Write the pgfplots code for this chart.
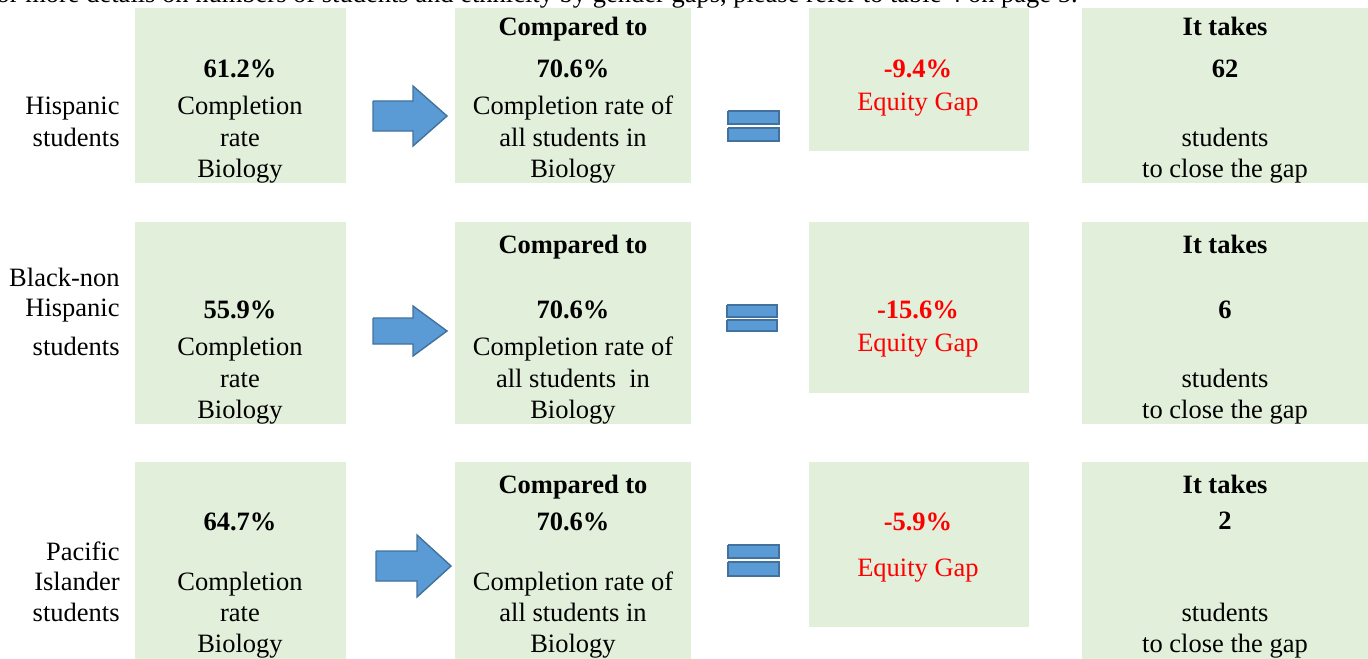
\documentclass[border=0pt]{standalone}
\usepackage{fontspec}
\setmainfont{Liberation Serif}
\usepackage{pgfplots}
\pgfplotsset{compat=1.18}
\definecolor{boxg}{HTML}{E2EFDA}
\definecolor{arrf}{HTML}{5B9BD5}
\definecolor{arrd}{HTML}{41719C}
\definecolor{gapred}{HTML}{FF0000}
\newcommand{\T}[3]{\node[anchor=base,inner sep=0pt] at (axis cs:#1,#2) {#3};}
\newcommand{\TB}[3]{\node[anchor=base,inner sep=0pt] at (axis cs:#1,#2) {\textbf{#3}};}
\newcommand{\TR}[3]{\node[anchor=base,inner sep=0pt,text=gapred] at (axis cs:#1,#2) {#3};}
\newcommand{\TRB}[3]{\node[anchor=base,inner sep=0pt,text=gapred] at (axis cs:#1,#2) {\textbf{#3}};}
\newcommand{\TL}[3]{\node[anchor=base east,inner sep=0pt] at (axis cs:#1,#2) {#3};}
\begin{document}
\begin{tikzpicture}[font=\fontsize{13.25}{15.5}\selectfont]
\begin{axis}[name=ax, hide axis, scale only axis, width=684pt, height=329pt,
  xmin=0, xmax=1368, ymin=0, ymax=658, y dir=reverse, clip=false, no markers]
% ---- boxes
\addplot[fill=boxg,draw=none] coordinates {(135,8)(346,8)(346,183)(135,183)};
\addplot[fill=boxg,draw=none] coordinates {(455,8)(691,8)(691,183)(455,183)};
\addplot[fill=boxg,draw=none] coordinates {(809,8)(1029,8)(1029,151)(809,151)};
\addplot[fill=boxg,draw=none] coordinates {(1082,8)(1370,8)(1370,183)(1082,183)};
\addplot[fill=boxg,draw=none] coordinates {(135,222)(346,222)(346,424)(135,424)};
\addplot[fill=boxg,draw=none] coordinates {(455,222)(691,222)(691,424)(455,424)};
\addplot[fill=boxg,draw=none] coordinates {(809,222)(1029,222)(1029,393)(809,393)};
\addplot[fill=boxg,draw=none] coordinates {(1082,222)(1370,222)(1370,424)(1082,424)};
\addplot[fill=boxg,draw=none] coordinates {(135,462)(346,462)(346,662)(135,662)};
\addplot[fill=boxg,draw=none] coordinates {(455,462)(691,462)(691,662)(455,662)};
\addplot[fill=boxg,draw=none] coordinates {(809,462)(1029,462)(1029,627)(809,627)};
\addplot[fill=boxg,draw=none] coordinates {(1082,462)(1370,462)(1370,662)(1082,662)};
% ---- arrows
\addplot[fill=arrf,draw=arrd,line width=0.7pt] coordinates {(373,101)(413,101)(413,86)(447,116)(413,146)(413,131)(373,131)(373,101)};
\addplot[fill=arrf,draw=arrd,line width=0.7pt] coordinates {(373,318)(413,318)(413,306)(447,331)(413,356)(413,344)(373,344)(373,318)};
\addplot[fill=arrf,draw=arrd,line width=0.7pt] coordinates {(376,551)(417,551)(417,535)(451,566)(417,597)(417,581)(376,581)(376,551)};
% ---- equals signs
\addplot[fill=arrf,draw=arrd,line width=0.7pt] coordinates {(728,111)(779,111)(779,124)(728,124)(728,111)};
\addplot[fill=arrf,draw=arrd,line width=0.7pt] coordinates {(728,128)(779,128)(779,141)(728,141)(728,128)};
\addplot[fill=arrf,draw=arrd,line width=0.7pt] coordinates {(727,305)(777,305)(777,317)(727,317)(727,305)};
\addplot[fill=arrf,draw=arrd,line width=0.7pt] coordinates {(727,320)(777,320)(777,331)(727,331)(727,320)};
\addplot[fill=arrf,draw=arrd,line width=0.7pt] coordinates {(728,545)(779,545)(779,558)(728,558)(728,545)};
\addplot[fill=arrf,draw=arrd,line width=0.7pt] coordinates {(728,562)(779,562)(779,576)(728,576)(728,562)};
% ---- top line (clipped at the top edge, as in the reference)
\node[anchor=base east,inner sep=0pt] at (axis cs:1078,3) {For more details on numbers of students and ethnicity by gender gaps, please refer to table 4 on page 5.};
% ---- row 1
\TL{120}{114}{Hispanic}
\TL{120}{146}{students}
\TB{240}{78}{61.2\%}
\T{240}{114}{Completion}
\T{240}{146}{rate}
\T{240}{177}{Biology}
\TB{573}{36}{Compared to}
\TB{573}{78}{70.6\%}
\T{573}{114}{Completion rate of}
\T{573}{146}{all students in}
\T{573}{177}{Biology}
\TRB{918}{78}{-9.4\%}
\TR{918}{111}{Equity Gap}
\TB{1225}{36}{It takes}
\TB{1225}{78}{62}
\T{1225}{146}{students}
\T{1225}{177}{to close the gap}
% ---- row 2
\TL{120}{286}{Black-non}
\TL{120}{316}{Hispanic}
\TL{120}{355}{students}
\TB{240}{318}{55.9\%}
\T{240}{355}{Completion}
\T{240}{387}{rate}
\T{240}{418}{Biology}
\TB{573}{253}{Compared to}
\TB{573}{318}{70.6\%}
\T{573}{355}{Completion rate of}
\T{573}{387}{all students\ \ in}
\T{573}{418}{Biology}
\TRB{918}{318}{-15.6\%}
\TR{918}{351}{Equity Gap}
\TB{1225}{253}{It takes}
\TB{1225}{318}{6}
\T{1225}{387}{students}
\T{1225}{418}{to close the gap}
% ---- row 3
\TL{120}{560}{Pacific}
\TL{120}{590}{Islander}
\TL{120}{621}{students}
\TB{240}{530}{64.7\%}
\T{240}{590}{Completion}
\T{240}{621}{rate}
\T{240}{652}{Biology}
\TB{573}{493}{Compared to}
\TB{573}{530}{70.6\%}
\T{573}{590}{Completion rate of}
\T{573}{621}{all students in}
\T{573}{652}{Biology}
\TRB{918}{530}{-5.9\%}
\TR{918}{576}{Equity Gap}
\TB{1225}{493}{It takes}
\TB{1225}{529}{2}
\T{1225}{621}{students}
\T{1225}{652}{to close the gap}
\end{axis}
\pgfresetboundingbox
\useasboundingbox (ax.south west) rectangle (ax.north east);
\end{tikzpicture}
\end{document}
